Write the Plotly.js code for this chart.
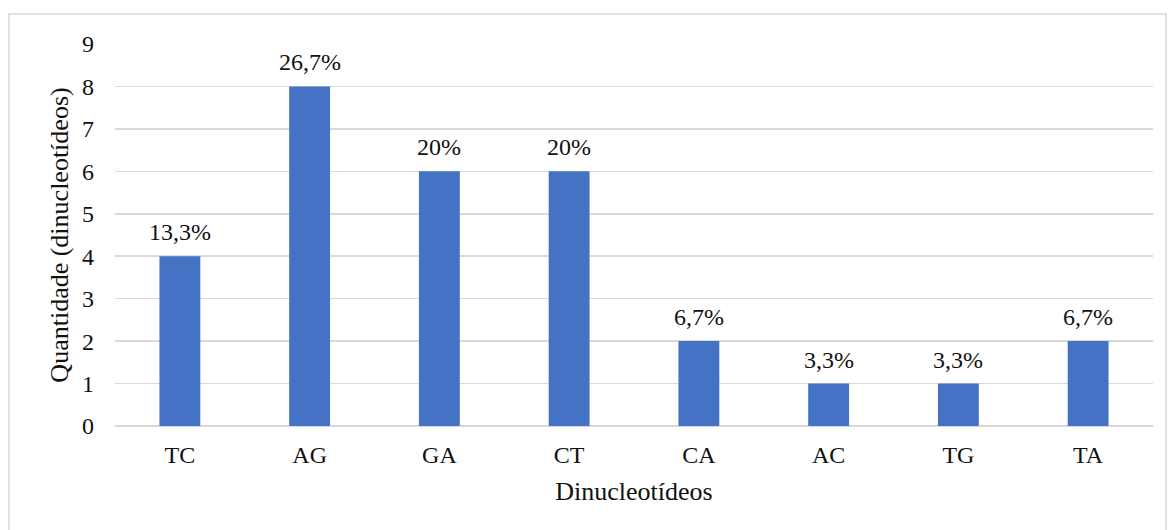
<!DOCTYPE html>
<html><head><meta charset="utf-8">
<script src="https://cdn.plot.ly/plotly-3.0.1.min.js"></script>
<style>body{margin:0;background:#fff}#c{width:1169px;height:530px}</style>
</head><body><div id="c"></div>
<script>
const categories = ["TC","AG","GA","CT","CA","AC","TG","TA"];
const counts = [4,8,6,6,2,1,1,2];
const percentLabels = ["13,3%","26,7%","20%","20%","6,7%","3,3%","3,3%","6,7%"];
const yTicks = [0,1,2,3,4,5,6,7,8,9];

const font = "'Liberation Serif', 'Times New Roman', Times, serif";
const txtColor = "#111";
const trace = {
  type: "bar", x: categories, y: counts,
  marker: {color: "#4472C4"}, hoverinfo: "none"
};
const W = 1169, H = 530, ml = 115, mr = 16, mt = 44, mb = 104;
const pw = W - ml - mr, ph = H - mt - mb;
const px = v => (v - ml) / pw, py = v => (H - mb - v) / ph;
const annotations = categories.map((c, i) => ({
  x: c, y: counts[i], xref: "x", yref: "y", text: percentLabels[i],
  showarrow: false, yanchor: "bottom", yshift: 9,
  font: {family: font, size: 24, color: txtColor}
}));
const layout = {
  width: W, height: H,
  margin: {l: ml, r: mr, t: mt, b: mb, pad: 0},
  paper_bgcolor: "#fff", plot_bgcolor: "#fff",
  bargap: 0.685, showlegend: false,
  font: {family: font, size: 24, color: txtColor},
  xaxis: {
    type: "category", showgrid: false, zeroline: false, showline: false,
    ticks: "", ticklen: 0, ticklabelstandoff: 12,
    tickfont: {family: font, size: 24, color: txtColor},
    title: {text: "Dinucleotídeos", font: {family: font, size: 26, color: txtColor}, standoff: 14}
  },
  yaxis: {
    range: [0, 9], tickvals: yTicks, ticktext: yTicks.map(String),
    showgrid: true, gridcolor: "#d9d9d9", gridwidth: 1.5,
    zeroline: false, showline: false, ticks: "", ticklabelstandoff: 20,
    tickfont: {family: font, size: 24, color: txtColor},
    title: {text: "Quantidade (dinucleotídeos)", font: {family: font, size: 26, color: txtColor}, standoff: 5}
  },
  annotations: annotations,
  shapes: [
    {type: "line", xref: "paper", yref: "paper", x0: 0, x1: 1, y0: 0, y1: 0, layer: "below",
     line: {color: "#d9d9d9", width: 2}},
    {type: "rect", xref: "paper", yref: "paper",
     x0: px(9), x1: px(1166), y0: py(14), y1: py(540),
     line: {color: "#d9d9d9", width: 1.5}, fillcolor: "rgba(0,0,0,0)"}
  ]
};
Plotly.newPlot("c", [trace], layout, {staticPlot: true});
</script></body></html>
